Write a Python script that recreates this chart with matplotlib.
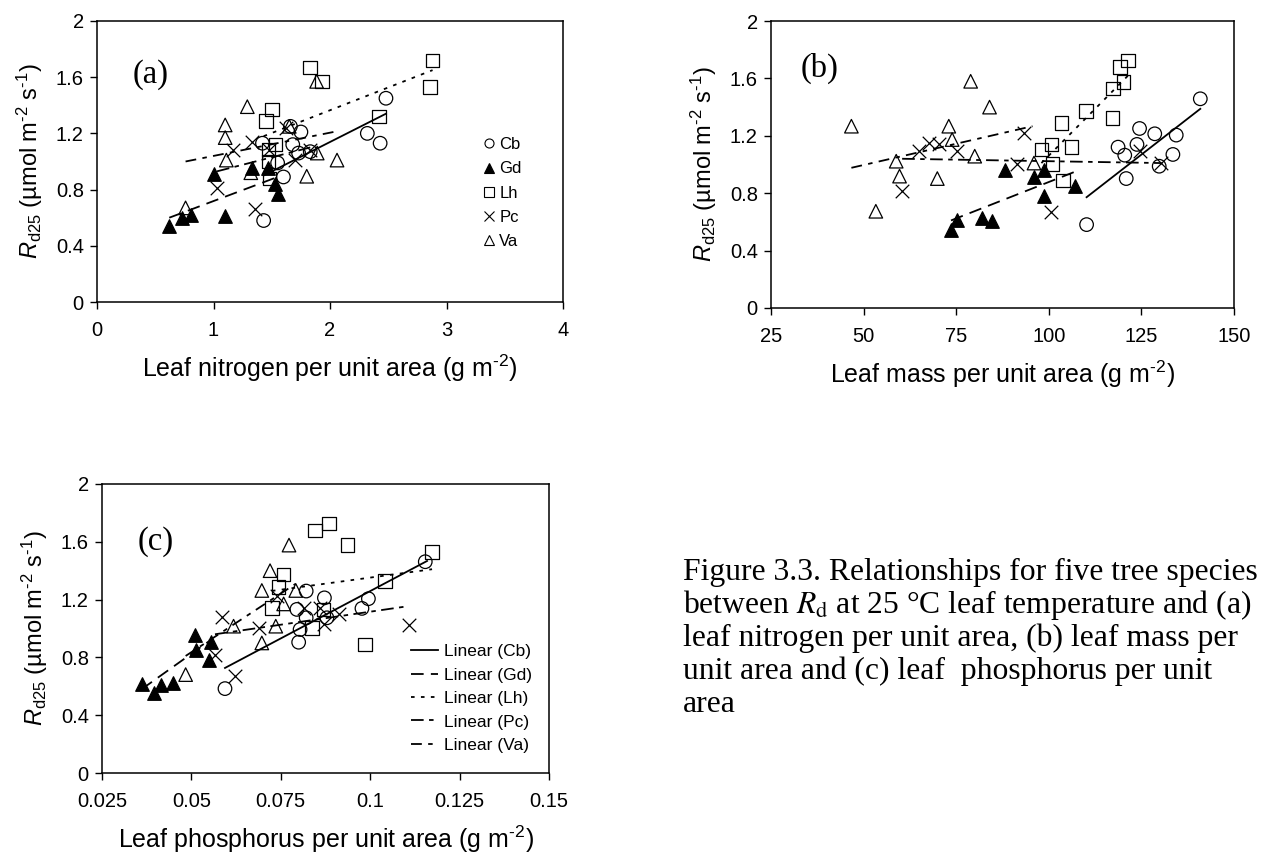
import matplotlib
matplotlib.use("Agg")
import matplotlib.pyplot as plt
from matplotlib.lines import Line2D
from matplotlib.ticker import FuncFormatter, MultipleLocator

plt.rcParams["font.family"] = ["Liberation Sans", "DejaVu Sans"]
plt.rcParams["mathtext.fontset"] = "custom"
plt.rcParams["mathtext.rm"] = "Liberation Sans"
plt.rcParams["mathtext.it"] = "Liberation Sans:italic"

species = ["Cb", "Gd", "Lh", "Pc", "Va"]

# ---- (a) leaf nitrogen per unit area ----
cb_n = [2.48, 2.32, 2.43, 1.66, 1.75, 1.68, 1.73, 1.83, 1.55, 1.60, 1.43, 1.42]
cb_rn = [1.45, 1.20, 1.13, 1.25, 1.21, 1.12, 1.06, 1.07, 0.99, 0.89, 0.58, 1.13]
gd_n = [0.62, 0.73, 0.81, 1.10, 1.00, 1.33, 1.47, 1.53, 1.55]
gd_rn = [0.54, 0.60, 0.62, 0.61, 0.91, 0.955, 0.955, 0.84, 0.77]
lh_n = [1.83, 1.93, 2.42, 1.50, 1.45, 1.53, 1.47, 1.47, 1.48, 2.88, 2.86]
lh_rn = [1.67, 1.57, 1.32, 1.37, 1.29, 1.12, 1.085, 1.00, 0.88, 1.72, 1.53]
pc_n = [1.33, 1.17, 1.03, 1.36, 1.62, 1.48, 1.70, 1.83]
pc_rn = [1.14, 1.085, 0.81, 0.66, 1.24, 1.085, 1.01, 1.085]
va_n = [1.29, 1.10, 1.10, 1.11, 0.76, 1.32, 1.885, 1.80, 2.06, 1.89, 1.65]
va_rn = [1.39, 1.26, 1.17, 1.01, 0.67, 0.92, 1.57, 0.895, 1.01, 1.06, 1.25]
# trend line ends (x0, x1, y0, y1)
trend_n = {"Cb": (1.43, 2.48, 0.90, 1.34), "Gd": (0.62, 1.55, 0.60, 0.89),
           "Lh": (1.43, 2.88, 1.18, 1.65), "Pc": (1.03, 1.83, 0.93, 1.10),
           "Va": (0.76, 2.06, 1.00, 1.215)}

# ---- (b) leaf mass per unit area ----
cb_m = [140.9, 110.2, 118.7, 120.5, 123.8, 124.5, 128.6, 134.4, 133.5, 129.8, 120.9]
cb_rm = [1.458, 0.581, 1.121, 1.065, 1.14, 1.251, 1.214, 1.205, 1.07, 0.988, 0.902]
gd_m = [73.6, 75.3, 82.0, 84.7, 88.2, 96.0, 98.7, 98.6, 107.1]
gd_rm = [0.54, 0.616, 0.628, 0.605, 0.965, 0.912, 0.965, 0.779, 0.849]
lh_m = [121.4, 119.2, 120.2, 117.4, 110.0, 117.2, 103.4, 100.7, 106.1, 98.0, 101.0, 103.9]
lh_rm = [1.726, 1.679, 1.574, 1.53, 1.372, 1.326, 1.29, 1.14, 1.123, 1.105, 1.005, 0.89]
pc_m = [60.4, 64.9, 67.6, 70.3, 75.3, 93.3, 91.5, 100.5, 124.5, 130.4]
pc_rm = [0.814, 1.093, 1.151, 1.14, 1.093, 1.221, 1.0, 0.667, 1.093, 1.01]
va_m = [46.7, 53.3, 58.8, 59.7, 73.0, 73.9, 69.9, 78.9, 84.0, 80.0, 96.0]
va_rm = [1.267, 0.674, 1.023, 0.919, 1.267, 1.174, 0.902, 1.58, 1.40, 1.058, 1.01]
trend_m = {"Cb": (110.2, 140.9, 0.772, 1.388), "Gd": (73.6, 107.1, 0.61, 0.95),
           "Lh": (98.0, 121.4, 1.01, 1.62), "Pc": (60.4, 130.4, 1.04, 1.01),
           "Va": (46.7, 95.6, 0.977, 1.267)}

# ---- (c) leaf phosphorus per unit area ----
cb_p = [0.0594, 0.080, 0.0804, 0.0821, 0.0872, 0.0795, 0.0821, 0.0879, 0.0977, 0.0995, 0.1154]
cb_rp = [0.584, 0.905, 0.993, 1.259, 1.212, 1.132, 1.074, 1.074, 1.139, 1.206, 1.462]
gd_p = [0.0361, 0.0396, 0.0414, 0.045, 0.051, 0.0513, 0.0554, 0.055]
gd_rp = [0.617, 0.554, 0.612, 0.624, 0.958, 0.848, 0.908, 0.785]
lh_p = [0.0846, 0.0885, 0.0937, 0.1173, 0.1042, 0.0758, 0.0744, 0.0725, 0.0837, 0.087, 0.0986]
lh_rp = [1.679, 1.725, 1.577, 1.531, 1.328, 1.374, 1.286, 1.143, 1.005, 1.132, 0.889]
pc_p = [0.0585, 0.0622, 0.0566, 0.0688, 0.074, 0.0814, 0.087, 0.0912, 0.086, 0.1108]
pc_rp = [1.079, 0.67, 0.82, 1.005, 1.224, 1.143, 1.028, 1.097, 1.143, 1.023]
va_p = [0.0484, 0.0618, 0.0697, 0.0736, 0.0697, 0.072, 0.0773, 0.0792, 0.0758]
va_rp = [0.681, 1.016, 0.90, 1.016, 1.263, 1.40, 1.577, 1.263, 1.17]
trend_p = {"Cb": (0.0594, 0.1159, 0.727, 1.467), "Gd": (0.0361, 0.0554, 0.58, 0.92),
           "Lh": (0.0725, 0.1173, 1.26, 1.41), "Pc": (0.0566, 0.1108, 0.96, 1.155),
           "Va": (0.0484, 0.0792, 0.81, 1.31)}

caption = [
    "Figure 3.3. Relationships for five tree species",
    r"between $R_\mathrm{d}$ at 25 °C leaf temperature and (a)",
    "leaf nitrogen per unit area, (b) leaf mass per",
    "unit area and (c) leaf  phosphorus per unit",
    "area",
]

marker_style = {
    "Cb": dict(marker="o", facecolors="none", edgecolors="black"),
    "Gd": dict(marker="^", facecolors="black", edgecolors="black"),
    "Lh": dict(marker="s", facecolors="none", edgecolors="black"),
    "Pc": dict(marker="x", c="black"),
    "Va": dict(marker="^", facecolors="none", edgecolors="black"),
}
line_style = {
    "Cb": "-",
    "Gd": (0, (7, 4)),
    "Lh": (0, (2, 3.5)),
    "Pc": (0, (7, 3, 2.5, 3)),
    "Va": (0, (6, 3.5, 2.5, 3.5)),
}

ylab = r"$R_\mathrm{d25}$ (µmol m$^{\text{-2}}$ s$^{\text{-1}}$)"


def draw_panel(ax, pts, trend, xlim, step, xlabel, tag, tagpos):
    for sp in species:
        x, y = pts[sp]
        ax.scatter(x, y, s=95, linewidths=0.9, zorder=3, **marker_style[sp])
        x0, x1, y0, y1 = trend[sp]
        ax.plot([x0, x1], [y0, y1], color="black", lw=1.3, linestyle=line_style[sp], zorder=2)
    ax.set_xlim(*xlim)
    ax.set_ylim(0, 2)
    ax.xaxis.set_major_locator(MultipleLocator(step))
    ax.yaxis.set_major_locator(MultipleLocator(0.4))
    ax.xaxis.set_major_formatter(FuncFormatter(lambda v, p: "%g" % round(v, 4)))
    ax.yaxis.set_major_formatter(FuncFormatter(lambda v, p: "%g" % round(v, 4)))
    ax.tick_params(direction="out", length=5, width=1, labelsize=14.5)
    ax.tick_params(axis="x", pad=9)
    ax.tick_params(axis="y", pad=4.5)
    for s in ax.spines.values():
        s.set_linewidth(1.1)
    ax.set_xlabel(xlabel, fontsize=18, labelpad=9)
    ax.set_ylabel(ylab, fontsize=17, labelpad=8)
    ax.text(tagpos[0], tagpos[1], tag, transform=ax.transAxes, fontsize=23.5,
            family="Liberation Serif", va="center", ha="left")


fig = plt.figure(figsize=(12.65, 8.59), dpi=100)
ax_a = fig.add_axes([0.0767, 0.6484, 0.3684, 0.3272])
ax_b = fig.add_axes([0.6095, 0.6415, 0.3660, 0.3340])
ax_c = fig.add_axes([0.0806, 0.1001, 0.3534, 0.3365])

pts_n = {"Cb": (cb_n, cb_rn), "Gd": (gd_n, gd_rn), "Lh": (lh_n, lh_rn),
         "Pc": (pc_n, pc_rn), "Va": (va_n, va_rn)}
pts_m = {"Cb": (cb_m, cb_rm), "Gd": (gd_m, gd_rm), "Lh": (lh_m, lh_rm),
         "Pc": (pc_m, pc_rm), "Va": (va_m, va_rm)}
pts_p = {"Cb": (cb_p, cb_rp), "Gd": (gd_p, gd_rp), "Lh": (lh_p, lh_rp),
         "Pc": (pc_p, pc_rp), "Va": (va_p, va_rp)}

unit = r" (g m$^{\text{-2}}$)"
draw_panel(ax_a, pts_n, trend_n, (0, 4), 1, "Leaf nitrogen per unit area" + unit, "(a)", (0.077, 0.81))
draw_panel(ax_b, pts_m, trend_m, (25, 150), 25, "Leaf mass per unit area" + unit, "(b)", (0.063, 0.836))
draw_panel(ax_c, pts_p, trend_p, (0.025, 0.15), 0.025, "Leaf phosphorus per unit area" + unit, "(c)", (0.08, 0.80))

# marker legend in (a)
mk_handles = []
for sp in species:
    st = marker_style[sp]
    fc = st.get("facecolors", "black")
    mk_handles.append(Line2D([], [], linestyle="none", marker=st["marker"], color="black",
                             markerfacecolor=fc, markersize=6.5, markeredgewidth=0.8))
ax_a.legend(mk_handles, species, loc="upper left", bbox_to_anchor=(0.815, 0.61), frameon=False,
            fontsize=12, handlelength=0.7, handletextpad=0.25, labelspacing=0.55, borderaxespad=0)

# trend line legend in (c)
ln_handles = [Line2D([], [], color="black", lw=1.3, linestyle=line_style[sp]) for sp in species]
ax_c.legend(ln_handles, ["Linear (%s)" % sp for sp in species], loc="lower left",
            bbox_to_anchor=(0.675, 0.045), frameon=False, fontsize=12.5, handlelength=1.6,
            handletextpad=0.3, labelspacing=0.48, borderaxespad=0)

for i, line in enumerate(caption):
    fig.text(0.540, 1 - (572 + 33 * i) / 859, line, family="Liberation Serif", fontsize=22.8,
             math_fontfamily="stix", va="center", ha="left")

fig.savefig("out.png", dpi=100)
